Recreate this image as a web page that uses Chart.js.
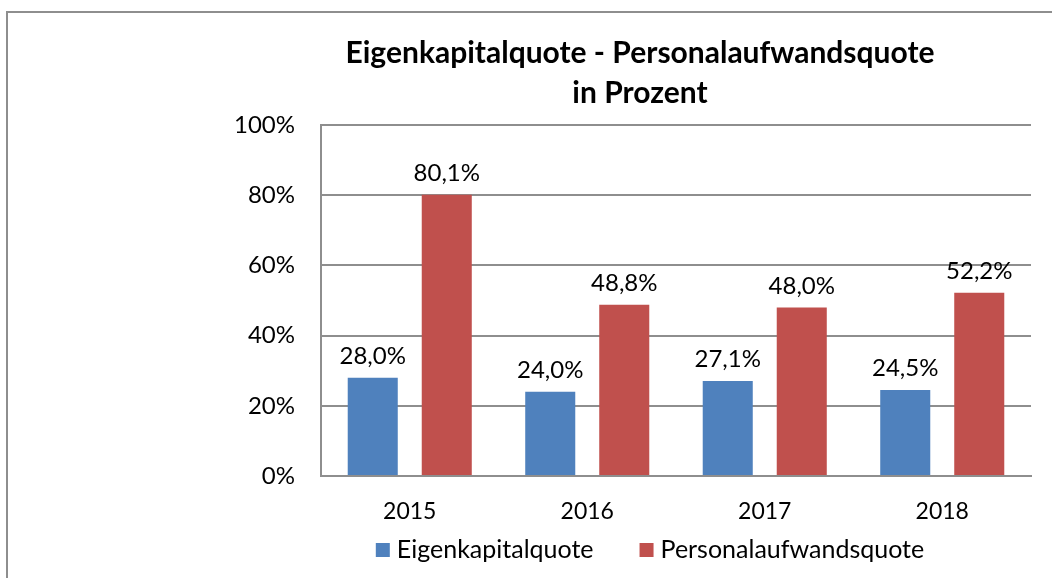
<!DOCTYPE html>
<html>
<head>
<meta charset="utf-8">
<script src="https://cdn.jsdelivr.net/npm/chart.js@4"></script>
<style>
  html, body { margin: 0; padding: 0; background: #fff; }
  #wrap { width: 1052px; height: 578px; position: relative; }
</style>
</head>
<body>
<div id="wrap"><canvas id="quoteChart" width="1052" height="578"></canvas></div>
<script>
// Daten
const years = ['2015', '2016', '2017', '2018'];
const eigenkapitalquote = [28.0, 24.0, 27.1, 24.5];
const personalaufwandsquote = [80.1, 48.8, 48.0, 52.2];
const titleLines = ['Eigenkapitalquote - Personalaufwandsquote', 'in Prozent'];

const BLUE = '#4F81BD';
const RED = '#C0504D';
const GRID = '#8e8e8e';
const FONT = 'Lato, "Open Sans", sans-serif';

// Rahmen links/oben + Titel (zentriert wie im Original, nicht über der Zeichenfläche)
const framePlugin = {
  id: 'frame',
  beforeDraw(chart) {
    const ctx = chart.ctx;
    ctx.save();
    ctx.strokeStyle = GRID;
    ctx.lineWidth = 2;
    ctx.beginPath();
    ctx.moveTo(7, 578);
    ctx.lineTo(7, 12);
    ctx.lineTo(1052, 12);
    ctx.stroke();

    ctx.fillStyle = '#000';
    ctx.font = 'bold 30px ' + FONT;
    ctx.textAlign = 'center';
    ctx.textBaseline = 'alphabetic';
    titleLines.forEach((line, i) => ctx.fillText(line, 640, 63 + i * 40));
    ctx.restore();
  }
};

// Werte über den Balken
const valueLabels = {
  id: 'valueLabels',
  afterDatasetsDraw(chart) {
    const ctx = chart.ctx;
    ctx.save();
    ctx.font = '24px ' + FONT;
    ctx.fillStyle = '#000';
    ctx.textAlign = 'center';
    ctx.textBaseline = 'alphabetic';
    chart.data.datasets.forEach((ds, i) => {
      chart.getDatasetMeta(i).data.forEach((bar, j) => {
        const txt = ds.data[j].toFixed(1).replace('.', ',') + '%';
        ctx.fillText(txt, bar.x, bar.y - 14);
      });
    });
    ctx.restore();
  }
};

// Legende unten, zentriert
const bottomLegend = {
  id: 'bottomLegend',
  afterDraw(chart) {
    const ctx = chart.ctx;
    const box = 14, gapText = 7, gapItem = 46;
    ctx.save();
    ctx.font = '25px ' + FONT;
    ctx.textBaseline = 'middle';
    ctx.textAlign = 'left';
    const items = chart.data.datasets.map(ds => ({
      text: ds.label, color: ds.backgroundColor, w: ctx.measureText(ds.label).width
    }));
    const total = items.reduce((s, it) => s + box + gapText + it.w, 0) + gapItem * (items.length - 1);
    let x = 650 - total / 2;
    const y = 550;
    items.forEach(it => {
      ctx.fillStyle = it.color;
      ctx.fillRect(x, y - box / 2, box, box);
      x += box + gapText;
      ctx.fillStyle = '#000';
      ctx.fillText(it.text, x, y);
      x += it.w + gapItem;
    });
    ctx.restore();
  }
};

new Chart(document.getElementById('quoteChart'), {
  type: 'bar',
  data: {
    labels: years,
    datasets: [
      {
        label: 'Eigenkapitalquote',
        data: eigenkapitalquote,
        backgroundColor: BLUE,
        categoryPercentage: 0.834,
        barPercentage: 0.676,
      },
      {
        label: 'Personalaufwandsquote',
        data: personalaufwandsquote,
        backgroundColor: RED,
        categoryPercentage: 0.834,
        barPercentage: 0.676,
      },
    ],
  },
  options: {
    responsive: false,
    animation: false,
    layout: { padding: { left: 235, right: 21, top: 125, bottom: 42 } },
    plugins: {
      title: { display: false },
      legend: { display: false },
      tooltip: { enabled: false },
    },
    scales: {
      x: {
        afterFit(scale) { scale.height = 60; },
        grid: { display: false, drawTicks: false },
        border: { color: GRID, width: 2 },
        ticks: { color: '#000', font: { family: FONT, size: 23 }, padding: 22 },
      },
      y: {
        min: 0,
        max: 100,
        afterFit(scale) { scale.width = 86; },
        grid: { color: GRID, lineWidth: 2, drawTicks: false },
        border: { color: GRID, width: 2 },
        ticks: {
          stepSize: 20,
          color: '#000',
          font: { family: FONT, size: 24 },
          padding: 26,
          callback: v => v + '%',
        },
      },
    },
  },
  plugins: [framePlugin, valueLabels, bottomLegend],
});
</script>
</body>
</html>
